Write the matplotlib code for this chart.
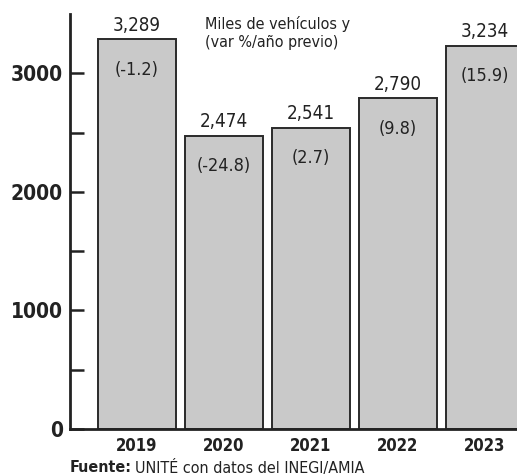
import matplotlib
matplotlib.use("Agg")
import matplotlib.pyplot as plt

years = ["2019", "2020", "2021", "2022", "2023"]
values = [3289, 2474, 2541, 2790, 3234]
value_labels = ["3,289", "2,474", "2,541", "2,790", "3,234"]
pct_labels = ["(-1.2)", "(-24.8)", "(2.7)", "(9.8)", "(15.9)"]

plt.rcParams['font.family'] = ["DejaVu Sans"]
plt.rcParams['font.stretch'] = "condensed"

W, H = 517, 475
fig = plt.figure(figsize=(W/100, H/100), dpi=100)
ax = fig.add_axes([70/W, (H-429)/H, (W-70)/W, (429-14)/H])

x = list(range(len(years)))
ax.bar(x, values, width=0.9, color="#c9c9c9", edgecolor="#2a2a2a", linewidth=1.4, zorder=2)

ax.set_xlim(-0.77, 4.37)
ax.set_ylim(0, 3500)

for xi, v, vl, pl in zip(x, values, value_labels, pct_labels):
    ax.annotate(vl, (xi, v), xytext=(0, 10), textcoords="offset points",
                ha="center", va="center", fontsize=13.5, color="#222222", clip_on=False)
    ax.annotate(pl, (xi, v), xytext=(0, -22), textcoords="offset points",
                ha="center", va="center", fontsize=13, color="#222222")

ax.spines['top'].set_visible(False)
ax.spines['right'].set_visible(False)
ax.spines['left'].set_linewidth(2)
ax.spines['bottom'].set_linewidth(2)
ax.spines['left'].set_color("#222222")
ax.spines['bottom'].set_color("#222222")

ax.set_yticks([0, 500, 1000, 1500, 2000, 2500, 3000])
ax.set_yticklabels(["0", "", "1000", "", "2000", "", "3000"])
ax.tick_params(axis='y', direction='in', length=10, width=1.8, color="#222222",
               labelsize=15, pad=5, labelcolor="#222222")
for lab in ax.get_yticklabels():
    lab.set_fontweight("bold")
ax.set_xticks(x)
ax.set_xticklabels(years, fontweight="bold")
ax.tick_params(axis='x', length=0, labelsize=12, pad=6, labelcolor="#222222")

fig.text(205/W, 1 - 33/H, "Miles de vehículos y\n(var %/año previo)", ha="left", va="center",
         fontsize=11.5, color="#222222", linespacing=1.25)

t1 = fig.text(70/W, 1 - 468/H, "Fuente:", ha="left", va="center", fontsize=11.5,
              fontweight="bold", color="#222222")
fig.canvas.draw()
bb = t1.get_window_extent(renderer=fig.canvas.get_renderer())
fig.text(bb.x1 / W + 3/W, 1 - 468/H, "UNITÉ con datos del INEGI/AMIA", ha="left", va="center",
         fontsize=11.5, color="#222222")

fig.savefig("out.png", dpi=100)
